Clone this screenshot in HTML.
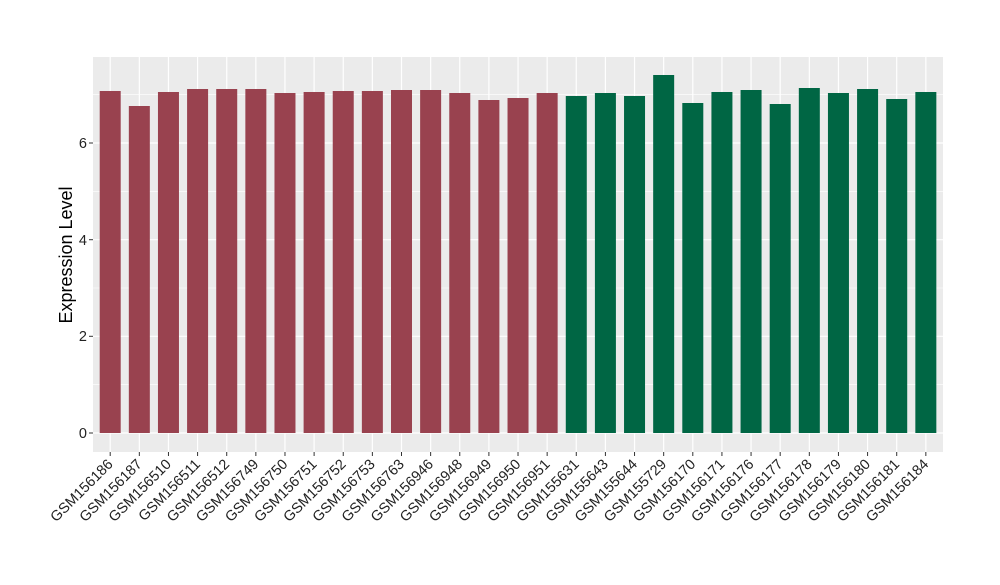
<!DOCTYPE html><html><head><style>body{margin:0;background:#fff}</style></head><body>
<svg width="1000" height="580" xmlns="http://www.w3.org/2000/svg" font-family="Liberation Sans, sans-serif">
<rect x="93" y="57" width="850" height="395" fill="#EBEBEB"/>
<g stroke="#fff" stroke-width="0.6">
<line x1="93" x2="943" y1="384.7" y2="384.7"/><line x1="93" x2="943" y1="288" y2="288"/><line x1="93" x2="943" y1="191.3" y2="191.3"/><line x1="93" x2="943" y1="94.7" y2="94.7"/>
</g>
<g stroke="#fff" stroke-width="1.2">
<line x1="93" x2="943" y1="433" y2="433"/><line x1="93" x2="943" y1="336.3" y2="336.3"/><line x1="93" x2="943" y1="239.7" y2="239.7"/><line x1="93" x2="943" y1="143" y2="143"/>
</g>
<g id="g"></g>
<g font-size="14.5" fill="#222" text-anchor="end">
<text x="87" y="438">0</text><text x="87" y="341">2</text><text x="87" y="245">4</text><text x="87" y="148">6</text>
</g>
<g stroke="#333" stroke-width="1"><line x1="89" x2="93" y1="433" y2="433"/><line x1="89" x2="93" y1="336.3" y2="336.3"/><line x1="89" x2="93" y1="239.7" y2="239.7"/><line x1="89" x2="93" y1="143" y2="143"/></g>
<text transform="translate(72,255) rotate(-90)" font-size="18" text-anchor="middle" fill="#000">Expression Level</text>
</svg>
<script>
var names=["GSM156186","GSM156187","GSM156510","GSM156511","GSM156512","GSM156749","GSM156750","GSM156751","GSM156752","GSM156753","GSM156763","GSM156946","GSM156948","GSM156949","GSM156950","GSM156951","GSM155631","GSM155643","GSM155644","GSM155729","GSM156170","GSM156171","GSM156176","GSM156177","GSM156178","GSM156179","GSM156180","GSM156181","GSM156184"];
var tops=[91,106,92,89,89,89,93,92,91,91,90,90,93,100,98,93,96,93,96,75,103,92,90,104,88,93,89,99,92];
var s="";
for(var i=0;i<29;i++){var c=110.2+i*29.13;
s+='<line x1="'+c+'" x2="'+c+'" y1="57" y2="452" stroke="#fff" stroke-width="1.2"/>';
s+='<rect x="'+(c-10.5)+'" y="'+tops[i]+'" width="21" height="'+(433-tops[i])+'" fill="'+(i<16?"#99424F":"#006644")+'"/>';
s+='<line x1="'+c+'" x2="'+c+'" y1="452" y2="456" stroke="#333"/>';
s+='<text transform="translate('+(c+3.5)+',465) rotate(-45)" font-size="14.5" text-anchor="end" fill="#222">'+names[i]+'</text>';}
document.getElementById("g").innerHTML=s;
</script>
</body></html>
